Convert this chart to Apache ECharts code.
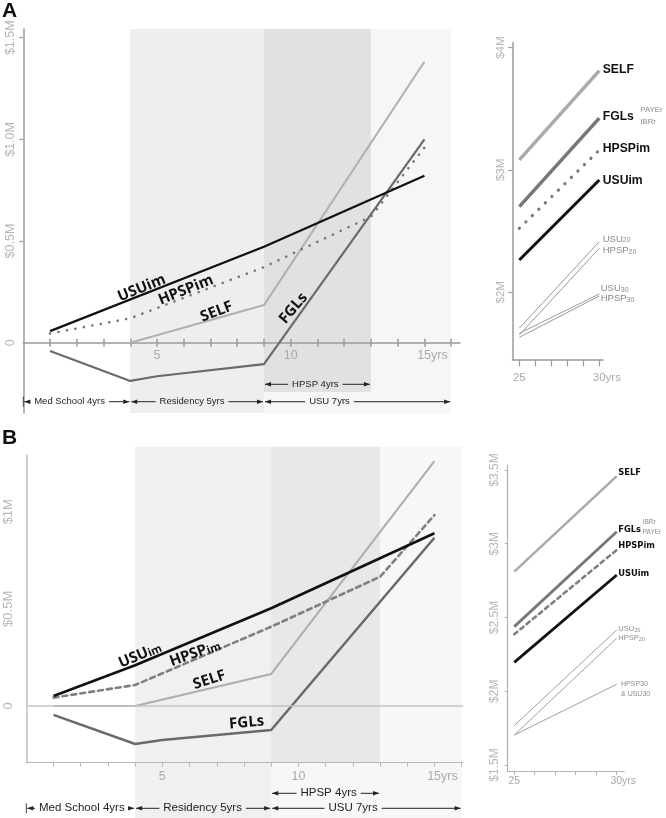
<!DOCTYPE html>
<html><head><meta charset="utf-8">
<script src="https://cdn.jsdelivr.net/npm/echarts@6.0.0/dist/echarts.min.js"></script>
<style>html,body{margin:0;padding:0;background:#fff;}#chart{width:666px;height:818px;}</style>
</head><body><div id="chart"></div>
<script>
// ================= DATA =================
const careerYearTicks = [1,2,3,4,5,6,7,8,9,10,11,12,13,14,15,16];
const careerYearLabels = [5,10,15];
const lateYearTicks = [25,26,27,28,29,30];
const lateYearLabels = [25,30];

// Panel A, years 1-15 (cumulative, $M)
const A_USUim  = [[1,0.057],[9,0.472],[15,0.821]];
const A_HPSPim = [[1,0.045],[4,0.12],[9,0.372],[13,0.62],[15,0.96]];
const A_SELF   = [[4,0],[9,0.185],[15,1.382]];
const A_FGLs   = [[1,-0.041],[4,-0.188],[5,-0.165],[9,-0.105],[15,1.0]];
// Panel A, years 25-30 ($M)
const AR_SELF   = [[25,3.082],[30,3.812]];
const AR_FGLs   = [[25,2.70],[30,3.423]];
const AR_HPSPim = [[25,2.523],[30,3.163]];
const AR_USUim  = [[25,2.264],[30,2.918]];
const AR_USU20  = [[25,1.706],[30,2.414]];
const AR_HPSP20 = [[25,1.651],[30,2.36]];
const AR_USU30  = [[25,1.665],[30,1.986]];
const AR_HPSP30 = [[25,1.632],[30,1.97]];

// Panel B, years 1-15 ($M)
const B_USUim  = [[1,0.051],[4,0.21],[9,0.503],[15,0.889]];
const B_HPSPim = [[1,0.043],[4,0.108],[9,0.408],[13,0.665],[15,0.983]];
const B_SELF   = [[1,0],[4,0],[9,0.165],[15,1.261]];
const B_FGLs   = [[1,-0.046],[4,-0.196],[5,-0.175],[9,-0.124],[15,0.866]];
// Panel B, years 25-30 ($M)
const BR_SELF   = [[25,2.811],[30,3.459]];
const BR_FGLs   = [[25,2.438],[30,3.082]];
const BR_HPSPim = [[25,2.386],[30,2.958]];
const BR_USUim  = [[25,2.196],[30,2.788]];
const BR_USU20  = [[25,1.767],[30,2.415]];
const BR_HPSP20 = [[25,1.703],[30,2.359]];
const BR_HPSP30USU30 = [[25,1.703],[30,2.047]];

// Axis tick values and their labels
const A_yTickValues = [0,0.5,1,1.5];
const A_yTickText   = ['0','$0.5M','$1.0M','$1.5M'];
const B_yTickValues = [0,0.5,1];
const B_yTickText   = ['0','$0.5M','$1M'];
const AR_yTickValues = [2,3,4];
const AR_yTickText   = ['$2M','$3M','$4M'];
const BR_yTickValues = [1.5,2,2.5,3,3.5];
const BR_yTickText   = ['$1.5M','$2M','$2.5M','$3M','$3.5M'];

// Career periods (shaded) and spans (arrow annotations), in years
const periods = [['USU 7yrs',9,16],['Residency 5yrs',4,9],['HPSP 4yrs',9,13]];
const spans   = [['Med School 4yrs',0,4],['Residency 5yrs',4,9],['USU 7yrs',9,16],['HPSP 4yrs',9,13]];

// ================= LAYOUT / STYLE =================
const SANS = '"Liberation Sans", Arial, sans-serif';
const bandColorsA = ['#f6f6f6','#eeeeee','#e1e1e1'];
const bandColorsB = ['#f7f7f7','#f0f0f0','#e8e8e8'];
const bandBottomA = [0,0,(413 - 392) / 384];
const bandBottomB = [0,0,0.149];
const spanLabelAtA = [1.73,6.31,11.45,10.92];
const spanLabelAtB = [2.04,6.48,12.01,11.11];
const spanRowA = [401.7,401.7,401.7,384.3];
const spanRowB = [808.3,808.3,808.3,793.3];

const chart = echarts.init(document.getElementById('chart'), null, {renderer:'canvas', width:666, height:818});

function fmtFrom(values, texts){ return v => { const i = values.findIndex(t => Math.abs(t - v) < 1e-6); return i >= 0 ? texts[i] : ''; }; }

function hiddenAxis(grid, min, max){
  return {gridIndex:grid, type:'value', min, max, show:false, splitLine:{show:false}};
}
function line(data, xi, yi, color, width, type, extra){
  return Object.assign({type:'line', data, xAxisIndex:xi, yAxisIndex:yi, showSymbol:false, symbol:'none',
    silent:true, clip:false, z:2, animation:false,
    lineStyle:{color, width, type:type||'solid', cap:(Array.isArray(type)?'round':'butt'), join:'round'}}, extra||{});
}
function bands(xi, yi, colors, bottoms){
  return {type:'custom', xAxisIndex:xi, yAxisIndex:yi, z:0, silent:true, animation:false, clip:false,
    data: periods.map((p,i) => [p[1], p[2], 1, bottoms[i]]),
    renderItem: function(params, api){
      const p0 = api.coord([api.value(0), api.value(2)]);
      const p1 = api.coord([api.value(1), api.value(3)]);
      return {type:'rect', shape:{x:p0[0], y:p0[1], width:p1[0]-p0[0], height:p1[1]-p0[1]}, style:{fill:colors[params.dataIndex]}};
    }};
}
const axisGray = '#9a9a9a';
const labelGray = '#aaaaaa';

const option = {
  animation:false,
  backgroundColor:'#ffffff',
  grid:[
    {left:23.3, top:30, width:436.7, height:312.7},    // 0 A main (bottom edge = zero line)
    {left:23.3, top:29, width:436.7, height:384},      // 1 A bands
    {left:512.3, top:42.7, width:90.7, height:316.6},  // 2 A right
    {left:26.3, top:455, width:436.7, height:307.7},   // 3 B main
    {left:26.3, top:446.7, width:436.7, height:371.3}, // 4 B bands
    {left:507.7, top:465, width:116.6, height:306}     // 5 B right
  ],
  xAxis:[
    {gridIndex:0, type:'value', min:0, max:16.33, position:'bottom', z:1,
     axisLine:{onZero:false, lineStyle:{color:axisGray, width:1.5}},
     axisTick:{customValues:careerYearTicks, length:4, lineStyle:{color:axisGray, width:1.5}},
     axisLabel:{customValues:careerYearLabels, margin:6, fontSize:12.5, fontFamily:SANS, color:labelGray,
       formatter: v => v === 15 ? '{u|15yrs}' : String(v),
       rich:{u:{fontSize:12.5, fontFamily:SANS, color:labelGray, padding:[0,0,0,16]}}},
     splitLine:{show:false}},
    hiddenAxis(1, 0, 16.33),
    {gridIndex:2, type:'value', min:24.56, max:30.23, position:'bottom', z:1,
     axisLine:{onZero:false, lineStyle:{color:axisGray, width:1.5}},
     axisTick:{customValues:lateYearTicks, length:7, lineStyle:{color:axisGray, width:1.2}},
     axisLabel:{customValues:lateYearLabels, margin:13, fontSize:11.5, fontFamily:SANS, color:labelGray,
       formatter: v => v === 30 ? '{u|30yrs}' : String(v),
       rich:{u:{fontSize:11.5, fontFamily:SANS, color:labelGray, padding:[0,0,0,15]}}},
     splitLine:{show:false}},
    {gridIndex:3, type:'value', min:0, max:16.05, position:'bottom', z:1,
     axisLine:{onZero:false, lineStyle:{color:'#b8b8b8', width:1.2}},
     axisTick:{customValues:careerYearTicks, length:4, lineStyle:{color:'#b8b8b8', width:1}},
     axisLabel:{customValues:careerYearLabels, margin:7, fontSize:12.5, fontFamily:SANS, color:labelGray,
       formatter: v => v === 15 ? '{u|15yrs}' : String(v),
       rich:{u:{fontSize:12.5, fontFamily:SANS, color:labelGray, padding:[0,0,0,16]}}},
     splitLine:{show:false}},
    hiddenAxis(4, 0, 16.05),
    {gridIndex:5, type:'value', min:24.68, max:30.37, position:'bottom', z:1,
     axisLine:{onZero:false, lineStyle:{color:'#b0b0b0', width:1.2}},
     axisTick:{customValues:lateYearTicks, length:4, lineStyle:{color:'#b0b0b0', width:1}},
     axisLabel:{customValues:lateYearLabels, margin:5, fontSize:10.5, fontFamily:SANS, color:labelGray,
       formatter: v => v === 30 ? '{u|30yrs}' : String(v),
       rich:{u:{fontSize:10.5, fontFamily:SANS, color:labelGray, padding:[0,0,0,13]}}},
     splitLine:{show:false}},
    {gridIndex:0, type:'value', min:0, max:16.33, position:'bottom', z:1,
     axisLine:{show:false, onZero:false},
     axisTick:{inside:true, customValues:careerYearTicks, length:4, lineStyle:{color:axisGray, width:1.5}},
     axisLabel:{show:false}, splitLine:{show:false}}
  ],
  yAxis:[
    {gridIndex:0, type:'value', min:0, max:1.538, z:1,
     axisLine:{show:false, onZero:false},
     axisTick:{show:true, customValues:[0.5,1,1.5], length:4, lineStyle:{color:axisGray, width:1.2}},
     axisLabel:{customValues:A_yTickValues, formatter:fmtFrom(A_yTickValues, A_yTickText), rotate:90, margin:6,
       fontSize:12.5, fontFamily:SANS, color:'#b4b4b4'},
     splitLine:{show:false}},
    {gridIndex:1, type:'value', min:0, max:1, z:1,
     axisLine:{show:true, onZero:false, lineStyle:{color:axisGray, width:1.5}},
     axisTick:{show:false}, axisLabel:{show:false}, splitLine:{show:false}},
    {gridIndex:2, type:'value', min:1.452, max:4.04, z:1,
     axisLine:{show:true, onZero:false, lineStyle:{color:axisGray, width:1.5}},
     axisTick:{show:true, customValues:AR_yTickValues, length:4, lineStyle:{color:axisGray, width:1.2}},
     axisLabel:{customValues:AR_yTickValues, formatter:fmtFrom(AR_yTickValues, AR_yTickText), rotate:90, margin:5,
       fontSize:11.5, fontFamily:SANS, color:'#b4b4b4'},
     splitLine:{show:false}},
    {gridIndex:3, type:'value', min:-0.292, max:1.292, z:1,
     axisLine:{show:true, onZero:false, lineStyle:{color:'#c0c0c0', width:1.5}},
     axisTick:{show:false},
     axisLabel:{customValues:B_yTickValues, formatter:fmtFrom(B_yTickValues, B_yTickText), rotate:90, margin:11,
       fontSize:13, fontFamily:SANS, color:'#b8b8b8'},
     splitLine:{show:false}},
    hiddenAxis(4, 0, 1),
    {gridIndex:5, type:'value', min:1.459, max:3.534, z:1,
     axisLine:{show:true, onZero:false, lineStyle:{color:'#b0b0b0', width:1.2}},
     axisTick:{show:true, customValues:BR_yTickValues, length:3, lineStyle:{color:'#b0b0b0', width:1}},
     axisLabel:{customValues:BR_yTickValues, formatter:fmtFrom(BR_yTickValues, BR_yTickText), rotate:90, margin:7,
       fontSize:12, fontFamily:SANS, color:'#b8b8b8'},
     splitLine:{show:false}}
  ],
  series:[
    bands(1, 1, bandColorsA, bandBottomA),
    bands(4, 4, bandColorsB, bandBottomB),
    // Panel A main
    line(A_SELF,   0, 0, '#b0b0b0', 2),
    line(A_FGLs,   0, 0, '#6a6a6a', 2.2),
    line(A_HPSPim, 0, 0, '#777777', 2.6, [0.1, 8.5]),
    line(A_USUim,  0, 0, '#111111', 2.3),
    // Panel A right
    line(AR_USU20,  2, 2, '#9a9a9a', 1),
    line(AR_HPSP20, 2, 2, '#9a9a9a', 1),
    line(AR_USU30,  2, 2, '#9a9a9a', 1),
    line(AR_HPSP30, 2, 2, '#9a9a9a', 1),
    line(AR_SELF,   2, 2, '#aaaaaa', 3.5),
    line(AR_FGLs,   2, 2, '#777777', 3.5),
    line(AR_HPSPim, 2, 2, '#777777', 3.2, [0.1, 9]),
    line(AR_USUim,  2, 2, '#111111', 3),
    // Panel B main
    line(B_SELF,   3, 3, '#adadad', 2, 'solid', {markLine:{silent:true, symbol:'none', animation:false,
      label:{show:false}, lineStyle:{color:'#c4c4c4', width:1.5, type:'solid'}, data:[{yAxis:0}]}}),
    line(B_FGLs,   3, 3, '#6a6a6a', 2.5),
    line(B_HPSPim, 3, 3, '#808080', 2.6, [5, 4]),
    line(B_USUim,  3, 3, '#111111', 2.6),
    // Panel B right
    line(BR_USU20,  5, 5, '#a0a0a0', 1),
    line(BR_HPSP20, 5, 5, '#a0a0a0', 1),
    line(BR_HPSP30USU30, 5, 5, '#a0a0a0', 1),
    line(BR_SELF,   5, 5, '#aaaaaa', 2.5),
    line(BR_FGLs,   5, 5, '#777777', 2.8),
    line(BR_HPSPim, 5, 5, '#808080', 2.6, [4, 4]),
    line(BR_USUim,  5, 5, '#111111', 2.8)
  ]
};
chart.setOption(option);

// ================= ANNOTATIONS =================
const G = [];
const toPx = (xi, yi, pt) => chart.convertToPixel({xAxisIndex:xi, yAxisIndex:yi}, pt);
const xPx = (xi, v) => chart.convertToPixel({xAxisIndex:xi}, v);
const measureCtx = document.createElement('canvas').getContext('2d');
function textW(t, size){ measureCtx.font = size + 'px "Liberation Sans"'; return measureCtx.measureText(t).width; }
function txt(x, y, text, o){
  o = o || {};
  const st = {text, fontSize:o.size||12, fontWeight:o.weight||'normal', fontFamily:o.family||SANS,
    fill:o.color||'#111', align:o.align||'left', verticalAlign:o.valign||'middle',
    textAlign:o.align||'left', textVerticalAlign:o.valign||'middle'};
  if (o.rich) st.rich = o.rich;
  G.push({type:'text', x, y, rotation:(o.rot||0)*Math.PI/180, z:10, silent:true, style:st});
}
function seg(x1, y1, x2, y2, color, w){
  G.push({type:'line', z:10, silent:true, shape:{x1, y1, x2, y2}, style:{stroke:color||'#222', lineWidth:w||1}});
}
function arrowHead(x, y, dir){
  G.push({type:'polygon', z:10, silent:true, shape:{points:[[x,y],[x - dir*6, y-2.3],[x - dir*6, y+2.3]]}, style:{fill:'#222'}});
}
function drawSpans(xi, labelAt, rows, fs, gap){
  spans.forEach((s, i) => {
    const x0 = xPx(xi, s[1]) + 1, x1 = xPx(xi, s[2]) - 1, c = xPx(xi, labelAt[i]), y = rows[i];
    const w = textW(s[0], fs);
    seg(x0, y, c - w/2 - gap, y); arrowHead(x0, y, -1);
    seg(c + w/2 + gap, y, x1, y); arrowHead(x1, y, 1);
    txt(c, y, s[0], {size:fs, align:'center', color:'#222'});
    if (i === 0) seg(x0 - 1, y - 5, x0 - 1, y + 5, '#444', 1);
  });
}

// Panel letters
txt(2, 11, 'A', {size:21, weight:'bold', color:'#111'});
txt(2, 438, 'B', {size:21, weight:'bold', color:'#111'});

// In-plot labels (data coordinates + rotation)
const OPEN = '"Open Sans", "DejaVu Sans", sans-serif';
const inA = [['USUim',4.43,0.268,22],['HPSPim',6.08,0.259,22],['SELF',7.23,0.152,21],['FGLs',10.1,0.169,50]];
inA.forEach(l => { const p = toPx(0, 0, [l[1], l[2]]); txt(p[0], p[1], l[0], {size:15, weight:'bold', family:OPEN, align:'center', rot:l[3]}); });
const richB = {a:{fontSize:15, fontWeight:'bold', fontFamily:OPEN, fill:'#111', color:'#111', verticalAlign:'bottom'},
               s:{fontSize:11, fontWeight:'bold', fontFamily:OPEN, fill:'#111', color:'#111', verticalAlign:'bottom'}};
const inB = [['{a|USU}{s|im}',4.18,0.262,23],['{a|HPSP}{s|im}',6.2,0.271,20],['{a|SELF}',6.73,0.134,18],['{a|FGLs}',8.1,-0.086,5]];
inB.forEach(l => { const p = toPx(3, 3, [l[1], l[2]]); txt(p[0], p[1], l[0], {size:15, weight:'bold', family:OPEN, align:'center', rot:l[3], rich:richB}); });

// Right panel labels (anchor at year 30 + pixel offset)
function sub(big, small, bs, ss, color){
  return {text:'{a|'+big+'}{s|'+small+'}', rich:{a:{fontSize:bs, fontFamily:SANS, fill:color, color, verticalAlign:'bottom'},
     s:{fontSize:ss, fontFamily:SANS, fill:color, color, verticalAlign:'bottom', padding:[0,0,0,0]}}};
}
const rA = [['SELF',3.818,3.4],['FGLs',3.436,3.4],['HPSPim',3.177,3.4],['USUim',2.912,3.4]];
rA.forEach(l => { const p = toPx(2, 2, [30, l[1]]); txt(p[0] + l[2], p[1], l[0], {size:12.2, weight:'bold', color:'#111'}); });
[['PAYEr',3.49,41],['IBRr',3.395,41]].forEach(l => { const p = toPx(2, 2, [30, l[1]]); txt(p[0] + l[2], p[1], l[0], {size:7.8, color:'#8a8a8a'}); });
[['USU','20',2.436,3.4],['HPSP','20',2.34,3.4],['USU','30',2.033,1.4],['HPSP','30',1.951,1.4]].forEach(l => {
  const p = toPx(2, 2, [30, l[2]]); const r = sub(l[0], l[1], 9.5, 7, '#8a8a8a');
  txt(p[0] + l[3], p[1], r.text, {size:9.5, color:'#8a8a8a', rich:r.rich});
});

const DJ = '"DejaVu Sans", sans-serif';
const rB = [['SELF',3.478,1.6],['FGLs',3.093,1.6],['HPSPim',2.985,1.6],['USUim',2.795,1.6]];
rB.forEach(l => { const p = toPx(5, 5, [30, l[1]]); txt(p[0] + l[2], p[1], l[0], {size:8.3, weight:'bold', family:DJ, color:'#111'}); });
[['IBRr',3.143,26],['PAYEr',3.075,26]].forEach(l => { const p = toPx(5, 5, [30, l[1]]); txt(p[0] + l[2], p[1], l[0], {size:6.5, color:'#8a8a8a'}); });
[['USU','20',2.42,1.6],['HPSP','20',2.359,1.6]].forEach(l => {
  const p = toPx(5, 5, [30, l[2]]); const r = sub(l[0], l[1], 7.5, 5.5, '#8a8a8a');
  txt(p[0] + l[3], p[1], r.text, {size:7.5, color:'#8a8a8a', rich:r.rich});
});
[['HPSP30',2.047,4.3],['& USU30',1.981,4.3]].forEach(l => { const p = toPx(5, 5, [30, l[1]]); txt(p[0] + l[2], p[1], l[0], {size:7, color:'#8a8a8a'}); });

// Period span arrows
drawSpans(0, spanLabelAtA, spanRowA, 9.5, 4);
drawSpans(3, spanLabelAtB, spanRowB, 11.5, 4);

chart.setOption({graphic:G});
</script>
</body></html>
